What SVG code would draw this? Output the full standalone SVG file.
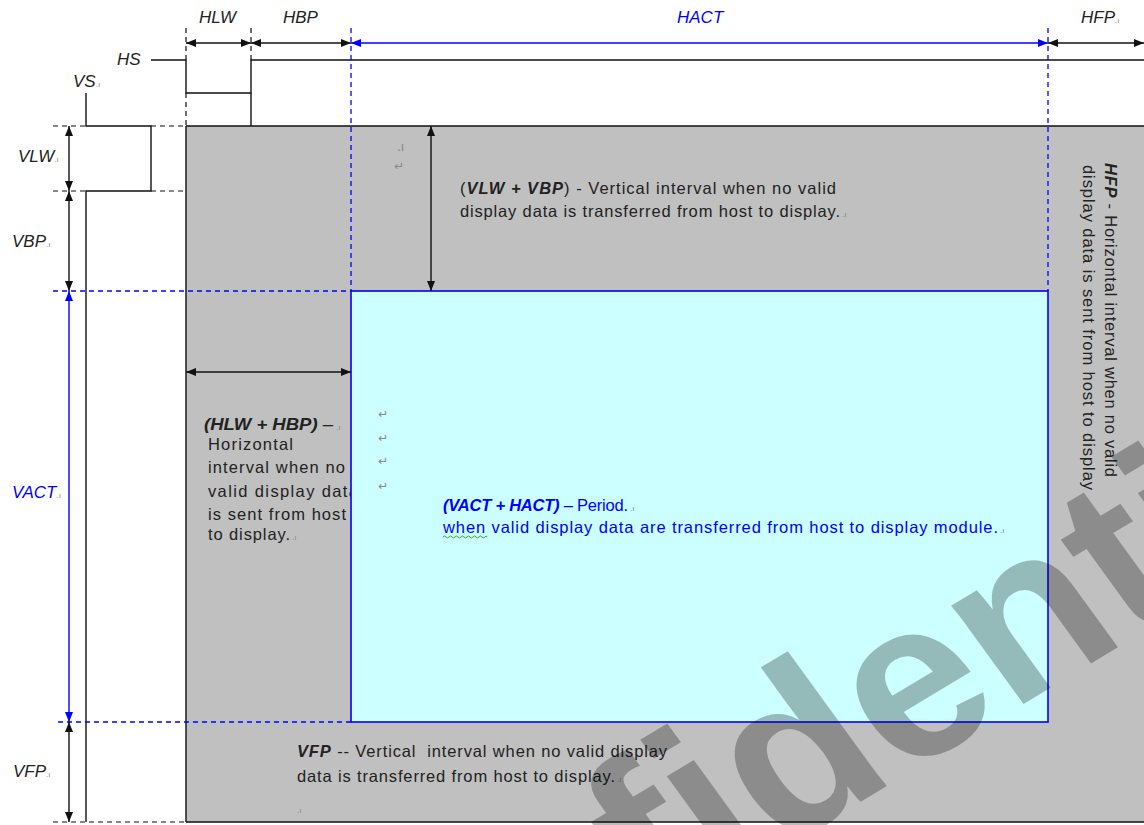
<svg xmlns="http://www.w3.org/2000/svg" width="1144" height="825" viewBox="0 0 1144 825">
<style>
.sig{fill:none;stroke:#111;stroke-width:1.4}
.dk{fill:none;stroke:#111;stroke-width:1.2;stroke-dasharray:5,4}
.db{fill:none;stroke:#0000ff;stroke-width:1.3;stroke-dasharray:5,4}
.ak{fill:none;stroke:#111;stroke-width:1.4;marker-start:url(#ahk);marker-end:url(#ahk)}
.ab{fill:none;stroke:#0000ff;stroke-width:1.4;marker-start:url(#ahb);marker-end:url(#ahb)}
.lbl{font-family:"Liberation Sans",Arial,sans-serif;font-style:italic;font-size:17px;fill:#222}
.lblb{font-family:"Liberation Sans",Arial,sans-serif;font-style:italic;font-size:17px;fill:#0000ff}
.txt{font-family:"Liberation Sans",Arial,sans-serif;font-size:16.5px;fill:#222}
.txtb{font-family:"Liberation Sans",Arial,sans-serif;font-size:16.5px;fill:#0000ff}
.bi{font-weight:bold;font-style:italic}
.mk{font-size:8px;fill:#888;font-style:normal;font-weight:normal}
.ret{font-family:"DejaVu Sans",sans-serif;font-size:12px;fill:#888}
.wm{font-family:"Liberation Sans",Arial,sans-serif;font-weight:bold;font-size:230px;fill:#000;fill-opacity:0.27}
</style>
<defs>
<marker id="ahk" viewBox="0 0 10 8" refX="10" refY="4" markerWidth="10" markerHeight="8" markerUnits="userSpaceOnUse" orient="auto-start-reverse"><path d="M0,0 L10,4 L0,8 z" fill="#111"/></marker>
<marker id="ahb" viewBox="0 0 10 8" refX="10" refY="4" markerWidth="10" markerHeight="8" markerUnits="userSpaceOnUse" orient="auto-start-reverse"><path d="M0,0 L10,4 L0,8 z" fill="#0000ff"/></marker>
</defs>
<rect width="1144" height="825" fill="#fff"/>

<g id="blanking-region">
<rect x="186" y="126" width="958" height="696" fill="#c0c0c0"/>
<path class="sig" d="M186,126 H1144 M186,126 V822 M186,822 H1144"/>
</g>

<g id="hlw-hbp-text">
<text class="txt" x="204" y="430" textLength="129" lengthAdjust="spacingAndGlyphs"><tspan class="bi">(HLW + HBP)</tspan> –</text>
<text class="txt" x="336" y="430"><tspan class="mk">.ı</tspan></text>
<text class="txt" x="208" y="450" textLength="85">Horizontal</text>
<text class="txt" x="208" y="473" textLength="137">interval when no</text>
<text class="txt" x="208" y="497" textLength="150">valid display data</text>
<text class="txt" x="208" y="520" textLength="138">is sent from host</text>
<text class="txt" x="208" y="540" textLength="82">to display.</text>
<text class="txt" x="292" y="540"><tspan class="mk">.ı</tspan></text>
</g>

<g id="active-region">
<rect x="351" y="291" width="697" height="431" fill="#ccffff" stroke="#0000ff" stroke-width="1.6"/>
<text class="txtb" x="443" y="511" textLength="185"><tspan class="bi">(VACT + HACT)</tspan> – Period.</text>
<text class="txtb" x="630" y="511"><tspan class="mk">.ı</tspan></text>
<text class="txtb" x="443" y="533" textLength="555">when valid display data are transferred from host to display module.</text>
<text class="txtb" x="1000" y="533"><tspan class="mk">.ı</tspan></text>
<path d="M443,537 q1.5,-2 3,0 t3,0 t3,0 t3,0 t3,0 t3,0 t3,0 t3,0 t3,0 t3,0 t3,0 t3,0 t3,0 t3,0 t2,0" fill="none" stroke="#3a3" stroke-width="1"/>
<text class="ret" x="378" y="418">↵</text>
<text class="ret" x="378" y="442">↵</text>
<text class="ret" x="378" y="465">↵</text>
<text class="ret" x="378" y="490">↵</text>
</g>

<g id="vlw-vbp-text">
<text class="ret" x="397" y="151" font-size="8">.ı</text>
<text class="ret" x="394" y="170">↵</text>
<text class="txt" x="460" y="194" textLength="376"><tspan>(</tspan><tspan class="bi">VLW + VBP</tspan><tspan>) - Vertical interval when no valid</tspan></text>
<text class="txt" x="460" y="217" textLength="380">display data is transferred from host to display.</text>
<text class="txt" x="842" y="217"><tspan class="mk">.ı</tspan></text>
</g>

<g id="vfp-text">
<text class="txt" x="297" y="757" textLength="370" xml:space="preserve"><tspan class="bi">VFP</tspan> -- Vertical  interval when no valid display</text>
<text class="txt" x="297" y="782" textLength="318">data is transferred from host to display.</text>
<text class="txt" x="617" y="782"><tspan class="mk">.ı</tspan></text>
<text class="txt" x="297" y="813"><tspan class="mk">.ı</tspan></text>
</g>

<g id="hfp-text">
<text class="txt" transform="translate(1105,163) rotate(90)" textLength="314"><tspan class="bi">HFP</tspan> - Horizontal interval when no valid</text>
<text class="txt" transform="translate(1083,165) rotate(90)" textLength="325">display data is sent from host to display</text>
</g>

<g id="hs-signal">
<path class="sig" d="M151,60 H186 V93 H251 V60 H1144"/>
<text class="lbl" x="117" y="65">HS</text>
</g>

<g id="vs-signal">
<path class="sig" d="M86,93 V126 H151 V191 H86 V822"/>
<text class="lbl" x="73" y="87">VS<tspan class="mk">.ı</tspan></text>
</g>

<g id="guides">
<path class="dk" d="M186,28 V60 M186,93 V126 M251,28 V60"/>
<path class="sig" d="M251,93 V126"/>
<path class="db" d="M351,28 V291 M1048,28 V291"/>
<path class="dk" d="M53,126 H86 M151,126 H186 M53,191 H86 M151,191 H186 M53,822 H186"/>
<path class="db" d="M53,291 H351 M58,722 H351"/>
</g>

<g id="top-labels">
<text class="lbl" x="199" y="23">HLW</text>
<text class="lbl" x="283" y="23">HBP</text>
<text class="lblb" x="677" y="23">HACT</text>
<text class="lbl" x="1081" y="23">HFP<tspan class="mk">.ı</tspan></text>
</g>

<g id="left-labels">
<text class="lbl" x="18" y="162">VLW<tspan class="mk">.ı</tspan></text>
<text class="lbl" x="12" y="247">VBP<tspan class="mk">.ı</tspan></text>
<text class="lblb" x="12" y="498">VACT<tspan class="mk">.ı</tspan></text>
<text class="lbl" x="13" y="777">VFP<tspan class="mk">.ı</tspan></text>
</g>

<g id="connectors">
<line class="ak" x1="186" y1="43" x2="251" y2="43"/>
<line class="ak" x1="251" y1="43" x2="351" y2="43"/>
<line class="ab" x1="351" y1="43" x2="1048" y2="43"/>
<line class="ak" x1="1048" y1="43" x2="1144" y2="43"/>
<line class="ak" x1="69" y1="126" x2="69" y2="191"/>
<line class="ak" x1="69" y1="191" x2="69" y2="291"/>
<line class="ab" x1="69" y1="291" x2="69" y2="722"/>
<line class="ak" x1="69" y1="722" x2="69" y2="822"/>
<line class="ak" x1="431" y1="126" x2="431" y2="291"/>
<line class="ak" x1="186" y1="372" x2="351" y2="372"/>
</g>

<g id="watermark">
<text class="wm" transform="translate(276,1153) rotate(-31) skewX(5)">Confidential</text>
</g>
</svg>
